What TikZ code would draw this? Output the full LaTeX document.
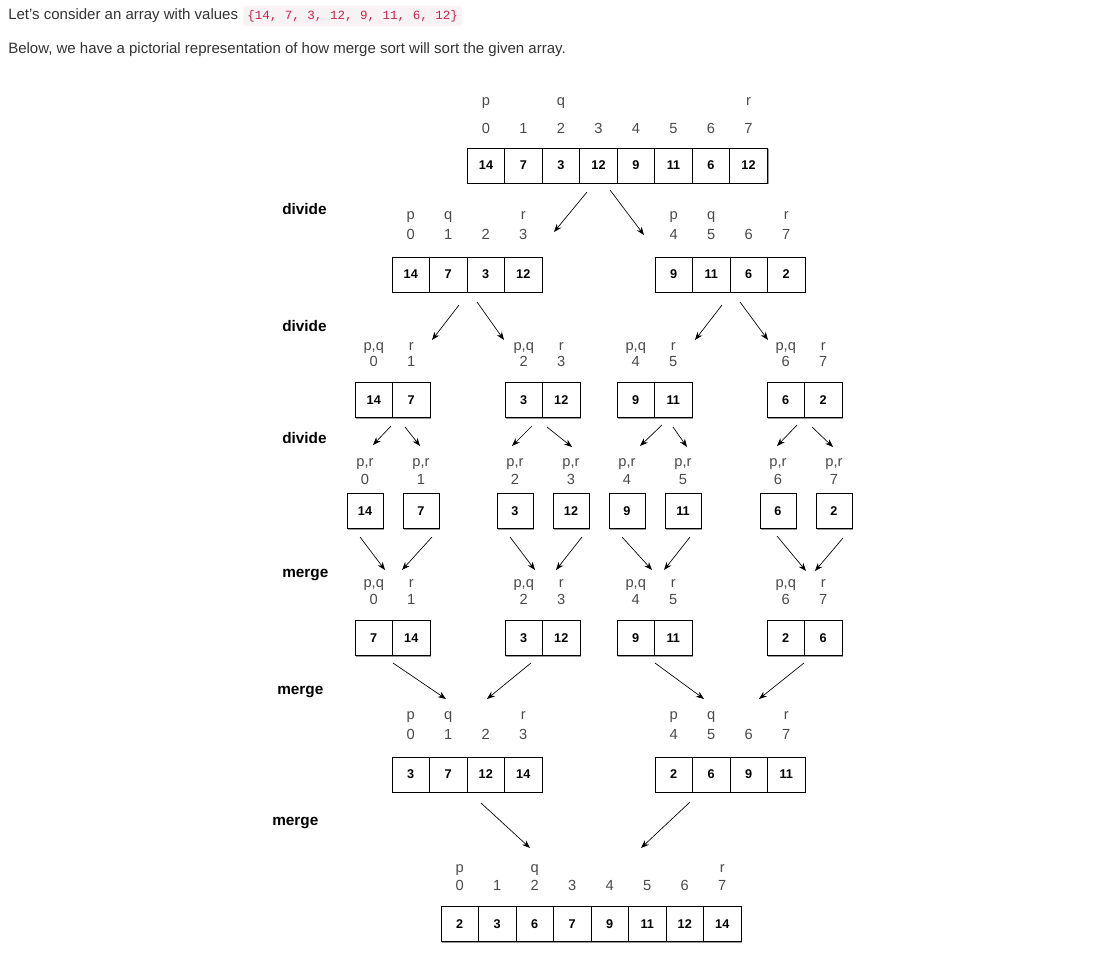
\documentclass[tikz,border=0pt]{standalone}
\usepackage{fontspec}
\setmainfont{Liberation Sans}
\setmonofont{Liberation Mono}
\usetikzlibrary{shadows,arrows.meta,positioning}
\definecolor{codebg}{HTML}{F9F2F4}
\definecolor{codefg}{HTML}{C7254E}
\definecolor{idxgray}{HTML}{4A4A4A}
\definecolor{bodytext}{HTML}{333333}

\begin{document}
\begin{tikzpicture}[x=0.75pt,y=-0.75pt]
    \tikzstyle{cell} = [draw, line width=0.65pt, minimum width=28.1pt, minimum height=26.25pt, inner sep=0pt, fill=white, font=\bfseries\fontsize{9.5}{11}\selectfont, drop shadow={shadow xshift=1pt, shadow yshift=-1pt, fill=black!40, opacity=1}]
    \tikzstyle{single} = [cell, minimum width=27pt]
    \tikzstyle{idx} = [text=idxgray, inner sep=0pt, text height=7.8pt, text depth=2.2pt, font=\fontsize{11}{13}\selectfont]
    \tikzstyle{phase} = [anchor=west, inner sep=0pt, font=\bfseries\fontsize{11.5}{13}\selectfont]
    \tikzstyle{body} = [anchor=west, inner sep=0pt, text=bodytext, font=\fontsize{11.25}{13}\selectfont]
    \tikzstyle{arrow} = [->, >={Stealth[length=6pt,width=4.5pt]}, line width=0.5pt]
    \useasboundingbox (0,0) rectangle (1117,957);

    % Intro text
    \node [body] (intro) at (8,16) {Let's consider an array with values};
    \node [right=3.5pt of intro, fill=codebg, rounded corners=2pt, text=codefg, inner xsep=3pt, minimum height=15pt, font=\ttfamily\fontsize{9.4}{11}\selectfont] (vals) {\{14, 7, 3, 12, 9, 11, 6, 12\}};
    \node [body] (below) at (8,50) {Below, we have a pictorial representation of how merge sort will sort the given array.};

    % Phase labels
    \node [phase] (ph1) at (282,209) {divide};
    \node [phase] (ph2) at (282,326) {divide};
    \node [phase] (ph3) at (282,438) {divide};
    \node [phase] (ph4) at (282,575) {merge};
    \node [phase] (ph5) at (277,692) {merge};
    \node [phase] (ph6) at (272,823) {merge};

    % Level 1: whole array
    \foreach \v [count=\k from 0] in {14,7,3,12,9,11,6,12} {
        \node [cell] (a\k) at (486+37.5*\k,165.5) {\v};
        \node [idx] (ai\k) at (486+37.5*\k,130) {\k};
    }
    \node [idx] (ap) at (486,102) {p};
    \node [idx] (aq) at (561,102) {q};
    \node [idx] (ar) at (748.5,102) {r};

    % Level 2: divide into halves
    \foreach \x/\v/\k in {410.75/14/0, 448.25/7/1, 485.75/3/2, 523.25/12/3, 673.75/9/4, 711.25/11/5, 748.75/6/6, 786.25/2/7} {
        \node [cell] (b\k) at (\x,274.5) {\v};
        \node [idx] (bi\k) at (\x,236) {\k};
    }
    \foreach \x/\t/\n in {410.75/p/1, 448.25/q/2, 523.25/r/3, 673.75/p/4, 711.25/q/5, 786.25/r/6}
        \node [idx] (bp\n) at (\x,216) {\t};

    % Level 3: divide into pairs
    \foreach \x/\v/\k in {373.75/14/0, 411.25/7/1, 523.75/3/2, 561.25/12/3, 635.75/9/4, 673.25/11/5, 785.75/6/6, 823.25/2/7} {
        \node [cell] (c\k) at (\x,400) {\v};
        \node [idx] (ci\k) at (\x,363) {\k};
    }
    \foreach \x/\t/\n in {373.75/{p,q}/1, 411.25/r/2, 523.75/{p,q}/3, 561.25/r/4, 635.75/{p,q}/5, 673.25/r/6, 785.75/{p,q}/7, 823.25/r/8}
        \node [idx] (cp\n) at (\x,347) {\t};

    % Level 4: single elements
    \foreach \x/\v/\k in {365/14/0, 421/7/1, 515/3/2, 571/12/3, 627/9/4, 683/11/5, 778/6/6, 834/2/7} {
        \node [single] (d\k) at (\x,511) {\v};
        \node [idx] (di\k) at (\x,481) {\k};
        \node [idx] (dp\k) at (\x,463) {p,r};
    }

    % Level 5: merge pairs
    \foreach \x/\v/\k in {373.75/7/0, 411.25/14/1, 523.75/3/2, 561.25/12/3, 635.75/9/4, 673.25/11/5, 785.75/2/6, 823.25/6/7} {
        \node [cell] (e\k) at (\x,638) {\v};
        \node [idx] (ei\k) at (\x,601) {\k};
    }
    \foreach \x/\t/\n in {373.75/{p,q}/1, 411.25/r/2, 523.75/{p,q}/3, 561.25/r/4, 635.75/{p,q}/5, 673.25/r/6, 785.75/{p,q}/7, 823.25/r/8}
        \node [idx] (ep\n) at (\x,584) {\t};

    % Level 6: merge halves
    \foreach \x/\v/\k in {410.75/3/0, 448.25/7/1, 485.75/12/2, 523.25/14/3, 673.75/2/4, 711.25/6/5, 748.75/9/6, 786.25/11/7} {
        \node [cell] (f\k) at (\x,774.5) {\v};
        \node [idx] (fi\k) at (\x,736) {\k};
    }
    \foreach \x/\t/\n in {410.75/p/1, 448.25/q/2, 523.25/r/3, 673.75/p/4, 711.25/q/5, 786.25/r/6}
        \node [idx] (fp\n) at (\x,716) {\t};

    % Level 7: sorted array
    \foreach \v [count=\k from 0] in {2,3,6,7,9,11,12,14} {
        \node [cell] (g\k) at (459.75+37.5*\k,924) {\v};
        \node [idx] (gi\k) at (459.75+37.5*\k,887) {\k};
    }
    \node [idx] (gp) at (459.75,869) {p};
    \node [idx] (gq) at (534.75,869) {q};
    \node [idx] (gr) at (722.25,869) {r};

    % Arrows
    \foreach \a/\b/\c/\d [count=\n] in {587/192/554/232, 610/190/644/235,
        459/305/432/340, 477/302/504/340, 722/305/695/340, 740/302/768/340,
        391/426/373/445, 405/427/420/446, 532/426/512/446, 547/427/572/447,
        662/425/640/446, 673/427/687/447, 797/425/777/446, 812/427/833/447,
        360/537/385/570, 432/537/402/570, 510/537/535/570, 582/537/556/570,
        622/537/652/570, 690/537/664/570, 777/536/806/571, 843/538/815/571,
        393/663/446/699, 531/663/487/699, 655/663/704/699, 804/663/759/699,
        481/803/530/848, 690/802/641/848} {
        \coordinate (s\n) at (\a,\b);
        \coordinate (e\n) at (\c,\d);
        \draw [arrow] (s\n) -- (e\n);
    }
\end{tikzpicture}
\end{document}
